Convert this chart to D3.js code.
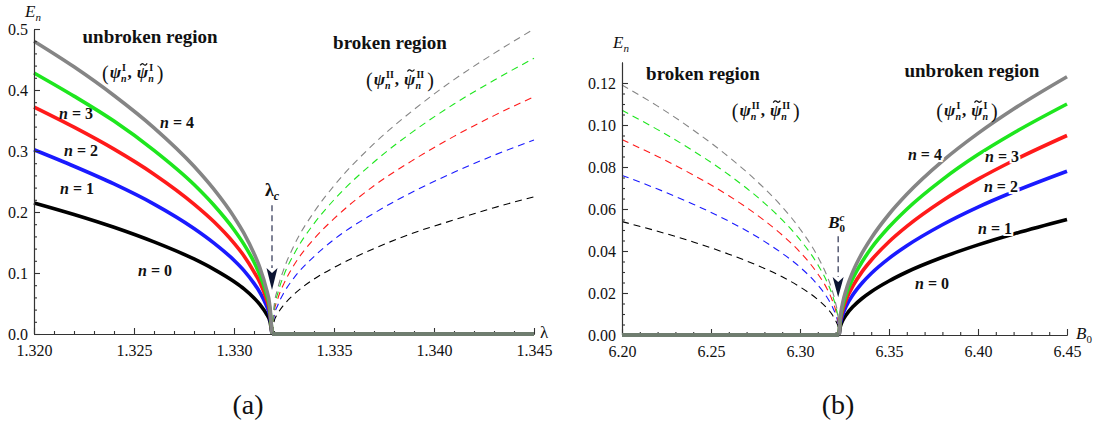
<!DOCTYPE html>
<html>
<head>
<meta charset="utf-8">
<script src="https://cdn.jsdelivr.net/npm/d3@7"></script>
<style>
  body { margin: 0; background: #fff; }
  svg text { font-family: "Liberation Serif", "Times New Roman", serif; fill: #111; }
</style>
</head>
<body>
<div id="chart"></div>
<script>
// ---- panel (a): E_n versus lambda ----
const lamC = 1.3319;
const lamUnbroken = [1.320, 1.322, 1.324, 1.326, 1.328, 1.329, 1.330, 1.3305, 1.331, 1.3313, 1.3316, 1.3318, 1.3319];
const aSolid0 = [0.215, 0.196, 0.175, 0.151, 0.123, 0.106, 0.086, 0.074, 0.059, 0.048, 0.034, 0.020, 0];
const aSolid1 = [0.302, 0.275, 0.246, 0.213, 0.173, 0.149, 0.121, 0.104, 0.083, 0.068, 0.048, 0.028, 0];
const aSolid2 = [0.372, 0.339, 0.303, 0.262, 0.213, 0.184, 0.149, 0.128, 0.102, 0.084, 0.059, 0.034, 0];
const aSolid3 = [0.428, 0.390, 0.349, 0.301, 0.245, 0.211, 0.171, 0.147, 0.118, 0.096, 0.068, 0.039, 0];
const aSolid4 = [0.480, 0.438, 0.391, 0.338, 0.275, 0.237, 0.192, 0.165, 0.132, 0.108, 0.076, 0.044, 0];

const lamBroken = [1.3319, 1.3320, 1.3322, 1.3325, 1.333, 1.334, 1.335, 1.337, 1.339, 1.341, 1.343, 1.345];
const aDash0 = [0, 0.020, 0.034, 0.048, 0.065, 0.090, 0.109, 0.140, 0.166, 0.187, 0.207, 0.225];
const aDash1 = [0, 0.028, 0.048, 0.068, 0.092, 0.127, 0.155, 0.198, 0.234, 0.265, 0.293, 0.318];
const aDash2 = [0, 0.034, 0.059, 0.083, 0.113, 0.156, 0.189, 0.243, 0.286, 0.324, 0.358, 0.389];
const aDash3 = [0, 0.039, 0.068, 0.097, 0.131, 0.181, 0.220, 0.282, 0.333, 0.377, 0.416, 0.452];
const aDash4 = [0, 0.044, 0.076, 0.107, 0.145, 0.200, 0.243, 0.312, 0.368, 0.417, 0.460, 0.500];

const aXTicks = [1.320, 1.325, 1.330, 1.335, 1.340, 1.345];
const aYTicks = [0, 0.1, 0.2, 0.3, 0.4, 0.5];

// ---- panel (b): E_n versus B0 ----
const bC = 6.322;
const bBroken = [6.20, 6.22, 6.24, 6.26, 6.28, 6.29, 6.30, 6.31, 6.315, 6.318, 6.320, 6.3215, 6.322];
const bDash0 = [0.054, 0.0494, 0.0443, 0.0385, 0.0317, 0.0277, 0.0229, 0.0169, 0.0129, 0.0098, 0.0069, 0.0035, 0];
const bDash1 = [0.076, 0.0695, 0.0623, 0.0542, 0.0446, 0.0389, 0.0323, 0.0238, 0.0182, 0.0138, 0.0097, 0.0049, 0];
const bDash2 = [0.093, 0.0850, 0.0762, 0.0663, 0.0545, 0.0476, 0.0395, 0.0291, 0.0223, 0.0168, 0.0119, 0.0060, 0];
const bDash3 = [0.107, 0.0978, 0.0877, 0.0763, 0.0628, 0.0548, 0.0454, 0.0335, 0.0256, 0.0194, 0.0137, 0.0069, 0];
const bDash4 = [0.119, 0.1090, 0.0976, 0.0848, 0.0698, 0.0610, 0.0505, 0.0373, 0.0285, 0.0215, 0.0152, 0.0076, 0];

const bUnbroken = [6.322, 6.3225, 6.323, 6.324, 6.326, 6.33, 6.335, 6.34, 6.35, 6.36, 6.38, 6.40, 6.42, 6.45];
const bSolid0 = [0, 0.0034, 0.0049, 0.0069, 0.0097, 0.0137, 0.0175, 0.0206, 0.0257, 0.0300, 0.0370, 0.0429, 0.0481, 0.055];
const bSolid1 = [0, 0.0049, 0.0069, 0.0097, 0.0138, 0.0195, 0.0249, 0.0293, 0.0365, 0.0425, 0.0525, 0.0609, 0.0682, 0.078];
const bSolid2 = [0, 0.0059, 0.0084, 0.0119, 0.0168, 0.0237, 0.0303, 0.0356, 0.0444, 0.0517, 0.0639, 0.0742, 0.0831, 0.095];
const bSolid3 = [0, 0.0069, 0.0097, 0.0137, 0.0194, 0.0275, 0.0350, 0.0413, 0.0514, 0.0599, 0.0740, 0.0859, 0.0962, 0.110];
const bSolid4 = [0, 0.0077, 0.0109, 0.0154, 0.0217, 0.0307, 0.0392, 0.0461, 0.0575, 0.0670, 0.0828, 0.0960, 0.1076, 0.123];

const bXTicks = [6.20, 6.25, 6.30, 6.35, 6.40, 6.45];
const bYTicks = [0, 0.02, 0.04, 0.06, 0.08, 0.10, 0.12];

const nColors = ["#000000", "#1a1aff", "#ff1a1a", "#1ee61e", "#858585"];
const zeroColor = "#6f7d6f";
const serif = '"Liberation Serif", "Times New Roman", serif';

const svg = d3.select("#chart").append("svg")
  .attr("width", 1106)
  .attr("height", 426)
  .attr("font-family", serif);

function minorTicks(major, step) {
  // minor ticks between the major ones
  const out = [];
  for (let i = 0; i < major.length - 1; i++) {
    const a = major[i], b = major[i + 1];
    const k = Math.round((b - a) / step);
    for (let j = 1; j < k; j++) out.push(a + j * step);
  }
  return out;
}

function drawAxes(x, y, xt, xMinorStep, yt, yMinorStep, xFmt, yFmt) {
  const gx = svg.append("g").attr("transform", `translate(0,${y(0)})`);
  gx.call(d3.axisBottom(x).tickValues(xt).tickSize(-6).tickSizeOuter(0).tickPadding(11).tickFormat(d3.format(xFmt)));
  gx.append("g").call(d3.axisBottom(x).tickValues(minorTicks(xt, xMinorStep)).tickSize(-3).tickSizeOuter(0).tickFormat(""));
  const gy = svg.append("g").attr("transform", `translate(${x.range()[0]},0)`);
  gy.call(d3.axisLeft(y).tickValues(yt).tickSize(-6).tickSizeOuter(0).tickPadding(6).tickFormat(d3.format(yFmt)));
  gy.append("g").call(d3.axisLeft(y).tickValues(minorTicks(yt, yMinorStep)).tickSize(-3).tickSizeOuter(0).tickFormat(""));
  [gx, gy].forEach(g => {
    g.attr("font-family", serif);
    g.selectAll("path, line").attr("stroke", "#333").attr("stroke-width", 1.1);
    g.selectAll("text").attr("font-size", 16).attr("fill", "#111");
  });
}

function series(xs, ys) {
  return xs.map((v, i) => ({ x: v, y: ys[i] }));
}

function drawCurves(x, y, xs, list, dashed) {
  const line = d3.line().x(d => x(d.x)).y(d => y(d.y)).curve(d3.curveMonotoneX);
  list.forEach((ys, n) => {
    svg.append("path")
      .datum(series(xs, ys))
      .attr("fill", "none")
      .attr("stroke", nColors[n])
      .attr("stroke-width", dashed ? 1.1 : 3.6)
      .attr("stroke-dasharray", dashed ? "7,5" : null)
      .attr("d", line);
  });
}

function drawZero(x, y, x0, x1) {
  svg.append("line")
    .attr("x1", x(x0)).attr("x2", x(x1))
    .attr("y1", y(0)).attr("y2", y(0))
    .attr("stroke", zeroColor).attr("stroke-width", 4);
}

function nLabel(px, py, n, halo) {
  const t = svg.append("text").attr("x", px).attr("y", py)
    .attr("text-anchor", "middle").attr("font-size", 16).attr("font-weight", "bold");
  if (halo) t.attr("stroke", "#fff").attr("stroke-width", 4).attr("paint-order", "stroke");
  t.append("tspan").attr("font-style", "italic").text("n");
  t.append("tspan").text(" = " + n);
}

function regionLabel(px, py, txt) {
  svg.append("text").attr("x", px).attr("y", py)
    .attr("text-anchor", "middle").attr("font-size", 19).attr("font-weight", "bold")
    .text(txt);
}

// (psi_n^sup , psi~_n^sup) built piece by piece, measuring each piece
function psiLabel(px, py, sup) {
  const g = svg.append("g").attr("font-weight", "bold");
  let cx = px;
  function piece(txt, size, dx, dy, italic, normal) {
    const t = g.append("text").attr("x", cx + dx).attr("y", py + dy).attr("font-size", size).text(txt);
    if (italic) t.attr("font-style", "italic");
    if (normal) t.attr("font-weight", "normal");
    return t.node().getComputedTextLength();
  }
  function psi(tilde) {
    const w = piece("\u03c8", 17, 0, 0, true);
    if (tilde) {
      // small tilde accent above the psi
      const tx = cx + w * 0.6, ty = py - 14;
      g.append("path")
        .attr("d", `M${tx - 3.5},${ty + 1} Q${tx - 1.8},${ty - 1.8} ${tx},${ty} T${tx + 3.5},${ty - 1}`)
        .attr("fill", "none").attr("stroke", "#111").attr("stroke-width", 1.3);
    }
    const ws = piece(sup, 10, w + 1, -7, false);
    const wn = piece("n", 10, w, 4, true);
    cx += w + Math.max(ws + 1, wn) + 1;
  }
  cx += piece("(", 20, 0, 2, false, true) + 1;
  psi(false);
  cx += piece(",", 17, 0, 0, false) + 5;
  psi(true);
  cx += 2;
  piece(")", 20, 0, 2, false, true);
}

function arrowDown(px, yTop, yBase, yTip) {
  svg.append("line")
    .attr("x1", px).attr("x2", px).attr("y1", yTop).attr("y2", yBase)
    .attr("stroke", "#2b3150").attr("stroke-width", 1.2).attr("stroke-dasharray", "6,4");
  svg.append("path")
    .attr("d", `M${px - 5.5},${yBase} L${px},${yTip} L${px + 5.5},${yBase} L${px},${yBase + 5} Z`)
    .attr("fill", "#0c1433");
}

// ================= panel (a) =================
const xa = d3.scaleLinear().domain([1.320, 1.345]).range([34, 534]);
const ya = d3.scaleLinear().domain([0, 0.5]).range([334, 29]);

drawCurves(xa, ya, lamBroken, [aDash0, aDash1, aDash2, aDash3, aDash4], true);
drawCurves(xa, ya, lamUnbroken, [aSolid0, aSolid1, aSolid2, aSolid3, aSolid4], false);
drawAxes(xa, ya, aXTicks, 0.001, aYTicks, 0.02, ".3f", ".1f");
drawZero(xa, ya, lamC, 1.345);
arrowDown(xa(lamC), ya(0.211), ya(0.108), ya(0.072));

regionLabel(xa(1.3258), ya(0.477), "unbroken region");
psiLabel(xa(1.3234), ya(0.419), "I");
regionLabel(xa(1.3378), ya(0.468), "broken region");
psiLabel(xa(1.3366), ya(0.409), "II");
nLabel(xa(1.3221), ya(0.352), 3);
nLabel(xa(1.32235), ya(0.292), 2);
nLabel(xa(1.32215), ya(0.230), 1);
nLabel(xa(1.32715), ya(0.338), 4);
nLabel(xa(1.32605), ya(0.095), 0);

const lc = svg.append("text").attr("x", xa(lamC) - 7).attr("y", ya(0.226)).attr("font-weight", "bold");
lc.append("tspan").attr("font-size", 18).text("\u03bb");
lc.append("tspan").attr("font-size", 12).attr("font-style", "italic").attr("dy", 4).text("c");

const ena = svg.append("text").attr("x", xa(1.320) - 9).attr("y", 17).attr("font-style", "italic");
ena.append("tspan").attr("font-size", 17).text("E");
ena.append("tspan").attr("font-size", 11).attr("dy", 4).text("n");
svg.append("text").attr("x", xa(1.345) + 6).attr("y", ya(0) + 4).attr("font-size", 17).text("\u03bb");

// ================= panel (b) =================
const xb = d3.scaleLinear().domain([6.20, 6.45]).range([622, 1067]);
const yb = d3.scaleLinear().domain([0, 0.13]).range([335, 62]);

drawCurves(xb, yb, bBroken, [bDash0, bDash1, bDash2, bDash3, bDash4], true);
drawCurves(xb, yb, bUnbroken, [bSolid0, bSolid1, bSolid2, bSolid3, bSolid4], false);
drawAxes(xb, yb, bXTicks, 0.01, bYTicks, 0.005, ".2f", ".2f");
drawZero(xb, yb, 6.20, bC);
arrowDown(xb(bC) - 1, yb(0.047), yb(0.0276), yb(0.018));

regionLabel(xb(6.2455), yb(0.1215), "broken region");
psiLabel(xb(6.2617), yb(0.1045), "II");
regionLabel(xb(6.3966), yb(0.1229), "unbroken region");
psiLabel(xb(6.3766), yb(0.1045), "I");
nLabel(xb(6.3702), yb(0.0833), 4, true);
nLabel(xb(6.4135), yb(0.0824), 3, true);
nLabel(xb(6.4129), yb(0.0681), 2, true);
nLabel(xb(6.4096), yb(0.0481), 1, true);
nLabel(xb(6.3742), yb(0.0219), 0, true);

const b0c = svg.append("text").attr("x", xb(bC) - 11).attr("y", yb(0.051)).attr("font-weight", "bold").attr("font-style", "italic");
b0c.append("tspan").attr("font-size", 17).text("B");
b0c.append("tspan").attr("font-size", 11).attr("dy", -7).text("c");
b0c.append("tspan").attr("font-size", 11).attr("font-style", "normal").attr("dx", -5).attr("dy", 11).text("0");

const enb = svg.append("text").attr("x", xb(6.20) - 9).attr("y", 48).attr("font-style", "italic");
enb.append("tspan").attr("font-size", 17).text("E");
enb.append("tspan").attr("font-size", 11).attr("dy", 4).text("n");
const b0 = svg.append("text").attr("x", xb(6.45) + 9).attr("y", yb(0) + 4);
b0.append("tspan").attr("font-size", 17).attr("font-style", "italic").text("B");
b0.append("tspan").attr("font-size", 11).attr("dy", 4).text("0");

// panel captions
svg.append("text").attr("x", 248).attr("y", 414).attr("text-anchor", "middle").attr("font-size", 28).text("(a)");
svg.append("text").attr("x", 838).attr("y", 414).attr("text-anchor", "middle").attr("font-size", 28).text("(b)");
</script>
</body>
</html>
